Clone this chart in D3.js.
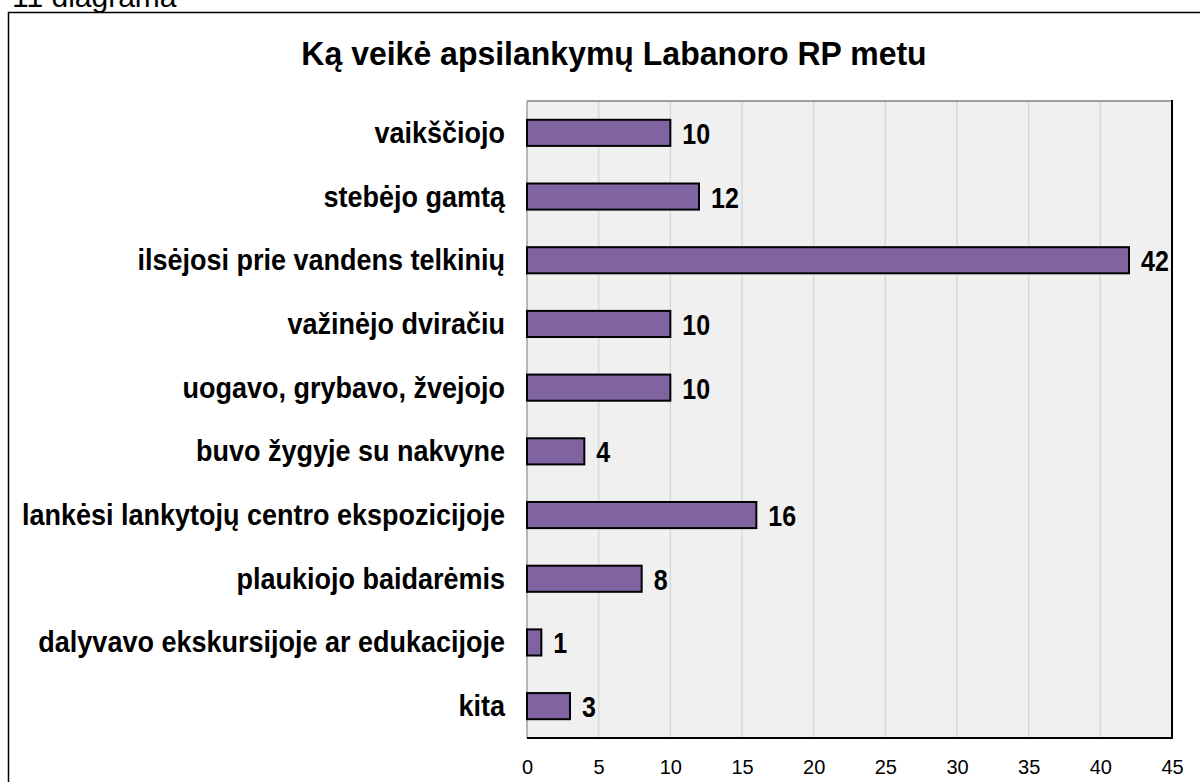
<!DOCTYPE html>
<html>
<head>
<meta charset="utf-8">
<script src="https://cdn.jsdelivr.net/npm/d3@7"></script>
<style>
  body { margin: 0; background: #fff; }
  svg { display: block; font-family: "Liberation Sans", Arial, sans-serif; }
</style>
</head>
<body>
<script>
// chart data
var categories = [
  "vaikščiojo",
  "stebėjo gamtą",
  "ilsėjosi prie vandens telkinių",
  "važinėjo dviračiu",
  "uogavo, grybavo, žvejojo",
  "buvo žygyje su nakvyne",
  "lankėsi lankytojų centro ekspozicijoje",
  "plaukiojo baidarėmis",
  "dalyvavo ekskursijoje ar edukacijoje",
  "kita"
];
var values = [10, 12, 42, 10, 10, 4, 16, 8, 1, 3];
var xTicks = [0, 5, 10, 15, 20, 25, 30, 35, 40, 45];
var title = "Ką veikė apsilankymų Labanoro RP metu";
var caption = "11 diagrama";

var W = 1200, H = 782;
var plot = { left: 527, top: 101, right: 1172, bottom: 738 };

var svg = d3.select("body").append("svg")
  .attr("width", W).attr("height", H);

// caption cut off at the top, as in the source
svg.append("text")
  .attr("x", 12).attr("y", 7)
  .attr("font-size", 30)
  .attr("fill", "#000")
  .text(caption);

// outer frame (runs off the page right and bottom)
svg.append("rect")
  .attr("x", 8.5).attr("y", 12.5)
  .attr("width", 1300).attr("height", 900)
  .attr("fill", "none").attr("stroke", "#000").attr("stroke-width", 1.5);

svg.append("text")
  .attr("transform", "translate(614,65) scale(1,1.06)")
  .attr("text-anchor", "middle")
  .attr("font-size", 32).attr("font-weight", "bold")
  .text(title);

var x = d3.scaleLinear().domain([0, 45]).range([plot.left, plot.right]);
var y = d3.scaleBand().domain(categories).range([plot.top, plot.bottom]).paddingInner(0.59).paddingOuter(0.295);

// plot background
svg.append("rect")
  .attr("x", plot.left).attr("y", plot.top)
  .attr("width", plot.right - plot.left).attr("height", plot.bottom - plot.top)
  .attr("fill", "#f0f0f0");

// gridlines
svg.append("g").selectAll("line")
  .data(xTicks.slice(1, -1))
  .join("line")
  .attr("x1", function(d) { return x(d); }).attr("x2", function(d) { return x(d); })
  .attr("y1", plot.top).attr("y2", plot.bottom)
  .attr("stroke", "#d9d9d9").attr("stroke-width", 1.5);

// plot borders: top/left grey, right/bottom black
svg.append("line").attr("x1", plot.left).attr("x2", plot.right).attr("y1", plot.top).attr("y2", plot.top)
  .attr("stroke", "#808080").attr("stroke-width", 1.5);
svg.append("line").attr("x1", plot.left).attr("x2", plot.left).attr("y1", plot.top).attr("y2", plot.bottom)
  .attr("stroke", "#a0a0a0").attr("stroke-width", 1.5);
svg.append("line").attr("x1", plot.right).attr("x2", plot.right).attr("y1", plot.top - 1).attr("y2", plot.bottom + 1)
  .attr("stroke", "#000").attr("stroke-width", 2);
svg.append("line").attr("x1", plot.left).attr("x2", plot.right + 1).attr("y1", plot.bottom).attr("y2", plot.bottom)
  .attr("stroke", "#000").attr("stroke-width", 2);

// bars
svg.append("g").selectAll("rect")
  .data(values)
  .join("rect")
  .attr("x", x(0))
  .attr("y", function(d, i) { return y(categories[i]); })
  .attr("width", function(d) { return x(d) - x(0); })
  .attr("height", y.bandwidth())
  .attr("fill", "#8064a2")
  .attr("stroke", "#000").attr("stroke-width", 2);

// value labels
svg.append("g").selectAll("text")
  .data(values)
  .join("text")
  .attr("transform", function(d, i) {
    return "translate(" + (x(d) + 12) + "," + (y(categories[i]) + y.bandwidth() / 2 + 11) + ") scale(1,1.2)";
  })
  .attr("font-size", 25).attr("font-weight", "bold")
  .text(function(d) { return d; });

// category labels
svg.append("g").selectAll("text")
  .data(categories)
  .join("text")
  .attr("transform", function(d) {
    return "translate(505," + (y(d) + y.bandwidth() / 2 + 10) + ") scale(1,1.1)";
  })
  .attr("text-anchor", "end")
  .attr("font-size", 27).attr("font-weight", "bold")
  .text(function(d) { return d; });

// x axis labels
var xAxis = d3.axisBottom(x).tickValues(xTicks).tickSize(0).tickPadding(22);
var gx = svg.append("g").attr("transform", "translate(0," + plot.bottom + ")").call(xAxis);
gx.select(".domain").remove();
gx.selectAll("text").attr("font-size", 20).attr("font-family", "Liberation Sans, Arial, sans-serif").attr("fill", "#000");
</script>
</body>
</html>
